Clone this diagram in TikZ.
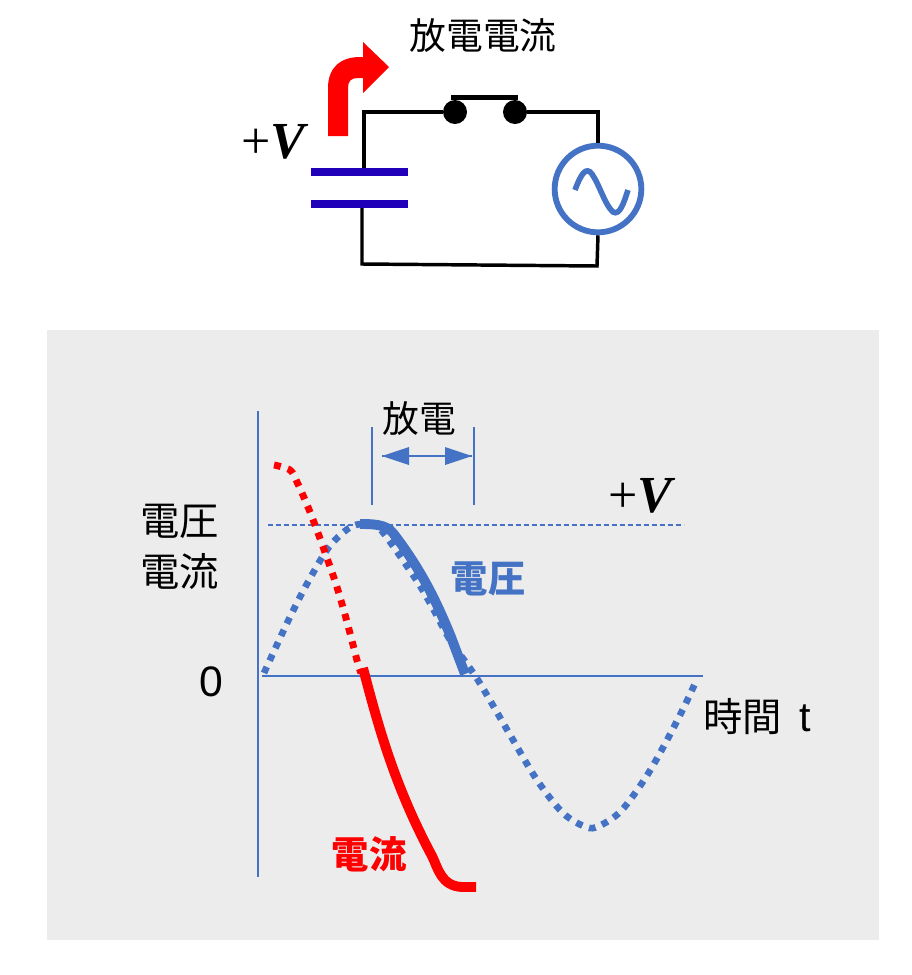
\documentclass[tikz,border=0pt]{standalone}
\usepackage{fontspec}
\setmainfont{Liberation Sans}
\newfontfamily\jpf{Noto Sans CJK JP}
\newfontfamily\tmsf{Liberation Serif}
\definecolor{bluey}{HTML}{4472C4}
\definecolor{plate}{HTML}{2000B8}
\definecolor{panel}{HTML}{ECECEC}
\tikzset{
  wire/.style={draw=black,line width=2.6pt},
  capplate/.style={draw=plate,line width=6pt},
  contact/.style={circle,fill=black,inner sep=0pt,minimum width=17pt,minimum height=18pt},
  acsource/.style={circle,draw=bluey,line width=4.4pt,inner sep=0pt,minimum size=65pt},
  jplabel/.style={font=\jpf\fontsize{27.6}{30}\selectfont,text=black,inner sep=0pt},
  jpbold/.style={font=\jpf\bfseries\fontsize{28}{30}\selectfont,inner sep=0pt},
  plabel/.style={font=\fontsize{32}{34}\selectfont,inner sep=0pt},
  vlabel/.style={font=\tmsf\fontsize{39}{40}\selectfont,inner sep=0pt},
  thinblue/.style={draw=bluey,line width=1.7pt},
  dotblue/.style={draw=bluey,line width=5pt,dash pattern=on 5pt off 5.2pt},
  dotred/.style={draw=red,line width=5.2pt,dash pattern=on 5.2pt off 5.5pt},
}
\begin{document}
\begin{tikzpicture}[x=0.75pt,y=-0.75pt]
\useasboundingbox (0,0) rectangle (912,975);
\fill[white] (0,0) rectangle (912,975);
\fill[panel] (47,330) rectangle (879,940);

% circuit
\coordinate (plTopL) at (311,172);
\coordinate (plTopR) at (408,172);
\coordinate (plBotL) at (311,204);
\coordinate (plBotR) at (408,204);
\coordinate (capA) at (364,172);
\coordinate (capB) at (362,204);
\coordinate (cTR) at (598,112);
\coordinate (cBL) at (362,264);
\coordinate (cBR) at (597,266);
\node[contact] (swA) at (455,112) {};
\node[contact] (swB) at (515,112) {};
\node[acsource] (src) at (598,189) {};
\draw[wire] (capA) |- (swA);
\draw[wire] (swB) -- (cTR) -- (src.north);
\draw[wire] (capB) -- (cBL) -- (cBR) -- (src.south);
\draw[wire,line width=3.6pt] ([shift={(-4,-2)}]swA.north) -- ([shift={(3,-2)}]swB.north);
\draw[capplate] (plTopL) -- (plTopR);
\draw[capplate] (plBotL) -- (plBotR);
\draw[draw=bluey,line width=4.2pt] (575,190) .. controls (581,174) and (586,166) .. (592,174)
  .. controls (600,186) and (605,205) .. (613,212) .. controls (620,216) and (624,202) .. (628,190);
% red arrow
\fill[red] (328,136) -- (328,88) .. controls (328,68) and (340,57) .. (360,57) -- (363,57)
  -- (363,42) -- (389,67) -- (363,93) -- (363,78) -- (358,78)
  .. controls (351,78) and (348,81) .. (348,88) -- (348,136) -- cycle;
\node[jplabel] (lblDC) at (483,36) {放電電流};
\node[vlabel,anchor=center] (lblV1) at (275,142) {+\textbf{\textit{V}}};

% chart axes
\coordinate (yTop) at (258,411);
\coordinate (yBot) at (258,877);
\coordinate (xL) at (262,676);
\coordinate (xR) at (703,676);
\coordinate (dL) at (268,525);
\coordinate (dR) at (684,525);
\draw[thinblue] (yTop) -- (yBot);
\draw[thinblue] (xL) -- (xR);
\draw[draw=bluey,line width=1.2pt,dash pattern=on 4pt off 2pt] (dL) -- (dR);

% discharge span
\coordinate (t1a) at (372,427);
\coordinate (t1b) at (372,505);
\coordinate (t2a) at (474,427);
\coordinate (t2b) at (474,505);
\coordinate (arrL) at (382,456);
\coordinate (arrR) at (472,456);
\draw[thinblue] (t1a) -- (t1b);
\draw[thinblue] (t2a) -- (t2b);
\draw[thinblue] (arrL) -- (arrR);
\fill[bluey] (arrL) -- ++(27,-9) -- ++(0,18) -- cycle;
\fill[bluey] (arrR) -- ++(-27,-9) -- ++(0,18) -- cycle;

% curves
\draw[dotblue] plot[smooth,tension=0.55] coordinates {(264,673) (289,619) (308,582) (329,547) (349,528) (362,524) (375,526) (385,535) (415,578) (430,603) (450,640) (467,664) (481,685) (509,733) (537,780) (563,813) (586,827) (599,826) (621,811) (646,777) (666,742) (685,705) (697,679)};
\draw[dotred] plot[smooth,tension=0.55] coordinates {(274,465) (290,470) (297,482) (308,507) (318,533) (327,558) (336,584) (344,611) (351,637) (358,664) (361,673)};
\draw[draw=bluey,line width=7.4pt] (360,524) .. controls (372,524) and (386,524) .. (393,533)
  .. controls (420,568) and (436,600) .. (451,637) -- (465,674);
\draw[draw=red,line width=7.4pt] (363,668) .. controls (378,725) and (394,785) .. (432,856)
  .. controls (438,868) and (441,886) .. (462,887) -- (476,887);

% labels
\node[jplabel] (lblD) at (419.5,419) {放電};
\node[jplabel,font=\jpf\fontsize{29.5}{30}\selectfont] (lblY1) at (179.5,521) {電圧};
\node[jplabel,font=\jpf\fontsize{29.5}{30}\selectfont] (lblY2) at (179.5,572) {電流};
\node[plabel] (lblZ) at (211,682) {0};
\node[vlabel] (lblV2) at (642,496) {+\textbf{\textit{V}}};
\node[jpbold,text=bluey] (lblVolt) at (488,579) {電圧};
\node[jpbold,text=red] (lblCur) at (369,854) {電流};
\node[jplabel,anchor=west,font=\jpf\fontsize{29.5}{30}\selectfont] (lblT) at (703,717) {時間\,{\rmfamily\fontsize{31}{31}\selectfont\ t}};
\end{tikzpicture}
\end{document}
